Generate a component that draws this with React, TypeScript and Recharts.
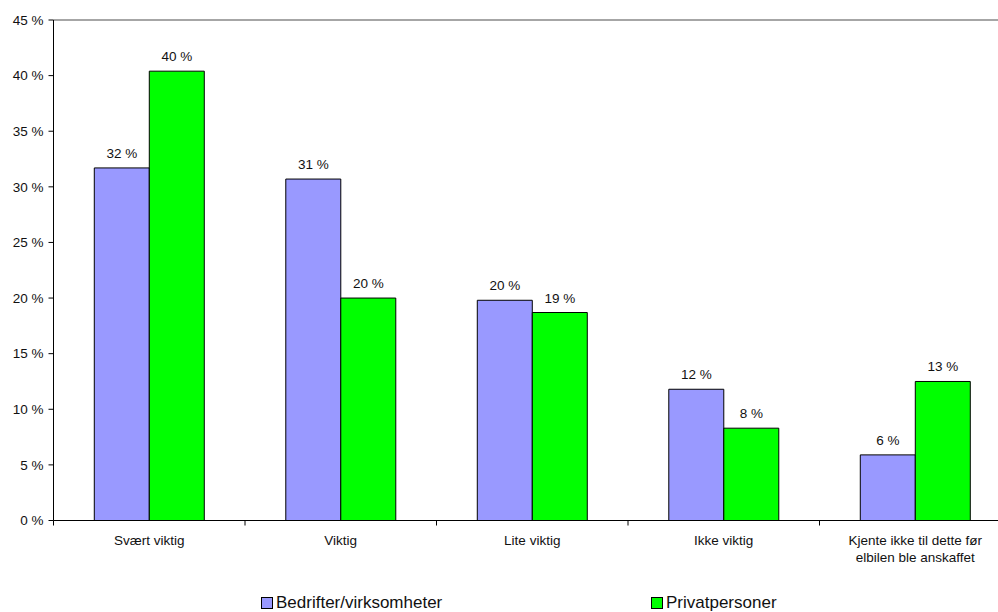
import React from "react";
import {
  BarChart,
  Bar,
  XAxis,
  YAxis,
  LabelList,
  ReferenceLine,
} from "recharts";

const categories = [
  "Svært viktig",
  "Viktig",
  "Lite viktig",
  "Ikke viktig",
  "Kjente ikke til dette før elbilen ble anskaffet",
];
const bedrifter = [31.7, 30.7, 19.8, 11.8, 5.9];
const privat = [40.4, 20.0, 18.7, 8.3, 12.5];
const yTicks = [0, 5, 10, 15, 20, 25, 30, 35, 40, 45];

const seriesNames = ["Bedrifter/virksomheter", "Privatpersoner"];
const colors = ["#9999FF", "#00FF00"];

const data = categories.map((c, i) => ({
  name: c,
  bedrifter: bedrifter[i],
  privat: privat[i],
}));

const font = "'Liberation Sans', Arial, sans-serif";
const fs = 13.5;
const catW = 191.5;

// category label + boundary tick mark (ticks sit between categories)
const CatTick = (props: any) => {
  const { x, y, payload } = props;
  const label: string = payload.value;
  const lines =
    label.length > 20
      ? ["Kjente ikke til dette før", "elbilen ble anskaffet"]
      : [label];
  return (
    <g>
      <line x1={x - catW / 2} x2={x - catW / 2} y1={y} y2={y + 5} stroke="#000" />
      <text x={x} y={y} textAnchor="middle" fontSize={fs} fill="#111" fontFamily={font}>
        {lines.map((l, i) => (
          <tspan key={i} x={x} dy={i === 0 ? 24 : 17}>
            {l}
          </tspan>
        ))}
      </text>
    </g>
  );
};

const pct = (v: any) => `${Math.round(v)} %`;

export default function App() {
  return (
    <div
      style={{
        position: "absolute",
        left: 0,
        top: 0,
        width: 998,
        height: 612,
        overflow: "hidden",
        background: "#fff",
        fontFamily: font,
      }}
    >
      <BarChart
        width={1012}
        height={612}
        data={data}
        barCategoryGap="21.3%"
        barGap={0}
        margin={{ top: 20, right: 1, left: 0, bottom: 51.5 }}
      >
        <ReferenceLine y={45} stroke="#888" strokeWidth={1.5} />
        <XAxis
          dataKey="name"
          tick={<CatTick />}
          tickLine={false}
          tickSize={0}
          tickMargin={0}
          interval={0}
          height={40}
          axisLine={{ stroke: "#000" }}
        />
        <YAxis
          domain={[0, 45]}
          ticks={yTicks}
          interval={0}
          width={53.5}
          tickFormatter={(v) => `${v} %`}
          tick={{ fontSize: fs, fill: "#111", fontFamily: font }}
          tickSize={5}
          tickMargin={5}
          axisLine={{ stroke: "#000" }}
          tickLine={{ stroke: "#000" }}
        />
        <Bar
          dataKey="bedrifter"
          name={seriesNames[0]}
          fill={colors[0]}
          stroke="#000"
          strokeWidth={1}
          isAnimationActive={false}
        >
          <LabelList
            dataKey="bedrifter"
            position="top"
            offset={10}
            formatter={pct}
            style={{ fontSize: fs, fill: "#111", fontFamily: font }}
          />
        </Bar>
        <Bar
          dataKey="privat"
          name={seriesNames[1]}
          fill={colors[1]}
          stroke="#000"
          strokeWidth={1}
          isAnimationActive={false}
        >
          <LabelList
            dataKey="privat"
            position="top"
            offset={10}
            formatter={pct}
            style={{ fontSize: fs, fill: "#111", fontFamily: font }}
          />
        </Bar>
      </BarChart>
      {seriesNames.map((n, i) => (
        <div
          key={n}
          style={{
            position: "absolute",
            left: i === 0 ? 261 : 651,
            top: 594,
            display: "flex",
            alignItems: "center",
            fontSize: 17,
            color: "#111",
            lineHeight: "18px",
          }}
        >
          <span
            style={{
              display: "inline-block",
              width: 10,
              height: 10,
              background: colors[i],
              border: "1px solid #000",
              marginRight: 3,
            }}
          />
          {n}
        </div>
      ))}
    </div>
  );
}
